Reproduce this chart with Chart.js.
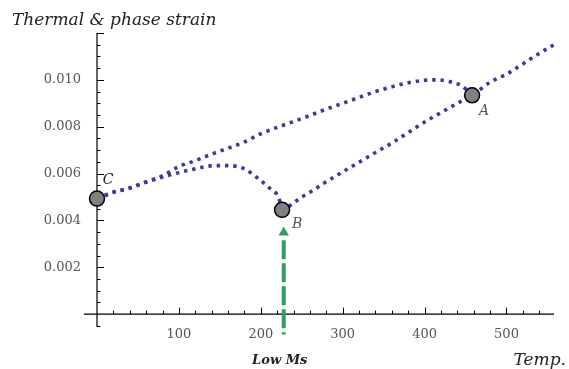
<!DOCTYPE html>
<html><head><meta charset="utf-8">
<script src="https://cdn.jsdelivr.net/npm/chart.js@4"></script>
<style>html,body{margin:0;padding:0;background:#fff}#wrap{width:569px;height:369px}</style>
</head><body><div id="wrap"><canvas id="c" width="569" height="369"></canvas></div>
<script>
// ---- data ----
const upperX = [0, 20, 40, 60, 80, 100, 120, 140, 160, 180, 200, 220, 240, 260, 280, 300, 320, 340, 360, 380, 400, 415, 430, 445, 458];
const upperY = [0.00493, 0.0052, 0.00538, 0.00565, 0.0059, 0.0063, 0.00655, 0.00683, 0.00708, 0.00735, 0.0077, 0.00797, 0.00822, 0.00848, 0.00875, 0.009, 0.00925, 0.0095, 0.0097, 0.00988, 0.00998, 0.0100, 0.00993, 0.00975, 0.00934];
const lowerX = [0, 20, 40, 60, 80, 100, 120, 140, 160, 180, 200, 210, 220, 228, 240, 250, 260, 280, 300, 320, 340, 360, 380, 400, 420, 440, 458, 480, 500, 520, 540, 558];
const lowerY = [0.00493, 0.0052, 0.00538, 0.00563, 0.00585, 0.00604, 0.0062, 0.00633, 0.00634, 0.0062, 0.0057, 0.0054, 0.0051, 0.0045, 0.00475, 0.005, 0.0052, 0.00565, 0.00607, 0.00648, 0.0069, 0.0073, 0.00775, 0.0082, 0.0086, 0.009, 0.00934, 0.0099, 0.01024, 0.01068, 0.01113, 0.0115];
const markerLabels = ['A', 'B', 'C'];
const markerX = [458, 226, 0];
const markerY = [0.00934, 0.00445, 0.00493];
const arrowX = [228, 228];
const arrowY = [0.00332, -0.00087];
const arrowHeadY = [0.00348];
const xMajorTicks = [100, 200, 300, 400, 500];
const yMajorTicks = [0.002, 0.004, 0.006, 0.008, 0.010];
const yAxisTitle = 'Thermal & phase strain';
const xAxisTitle = 'Temp.';
const arrowLabel = 'Low Ms';

const pts = (xs, ys) => xs.map((x, i) => ({x, y: ys[i]}));
const isMajor = (v, list) => list.some(m => Math.abs(v - m) < 1e-9);

const BLUE = '#3a3b9c';
const GREEN = '#2f9e64';
const SERIF = '"DejaVu Serif", "Liberation Serif", serif';
const X_AXIS_START = -16;

const decorations = {
  id: 'decorations',
  beforeDatasetsDraw(chart) {
    const ctx = chart.ctx, xs = chart.scales.x, ys = chart.scales.y, a = chart.chartArea;
    const x0 = xs.getPixelForValue(0), y0 = ys.getPixelForValue(0);
    ctx.save();
    ctx.strokeStyle = '#000';
    ctx.lineWidth = 1.2;
    ctx.beginPath();
    ctx.moveTo(xs.getPixelForValue(X_AXIS_START), y0); ctx.lineTo(a.right, y0);
    ctx.moveTo(x0, a.top); ctx.lineTo(x0, a.bottom);
    ctx.stroke();
    ctx.lineWidth = 1;
    ctx.beginPath();
    xs.ticks.forEach(t => {
      if (t.value <= 0) return;
      const p = Math.round(xs.getPixelForValue(t.value)) + 0.5;
      const len = isMajor(t.value, xMajorTicks) ? 6.5 : 3.5;
      ctx.moveTo(p, y0); ctx.lineTo(p, y0 - len);
    });
    ys.ticks.forEach(t => {
      if (Math.abs(t.value) < 1e-9) return;
      const p = Math.round(ys.getPixelForValue(t.value)) + 0.5;
      const len = (isMajor(t.value, yMajorTicks) || Math.abs(t.value - 0.012) < 1e-9) ? 7 : 3.5;
      ctx.moveTo(x0, p); ctx.lineTo(x0 + len, p);
    });
    ctx.stroke();
    ctx.restore();
  },
  afterDraw(chart) {
    const ctx = chart.ctx, xs = chart.scales.x, ys = chart.scales.y;
    ctx.save();
    ctx.fillStyle = '#222';
    ctx.textBaseline = 'alphabetic';
    ctx.font = 'italic 17px ' + SERIF;
    ctx.textAlign = 'left';
    ctx.fillText(yAxisTitle, 12, 25);
    ctx.textAlign = 'right';
    ctx.fillText(xAxisTitle, 566, 365);
    ctx.font = 'italic bold 13px ' + SERIF;
    ctx.textAlign = 'center';
    ctx.fillText(arrowLabel, xs.getPixelForValue(arrowX[0]) - 4, 364);
    const offs = [[12, 20], [15, 18], [11, -15]];
    ctx.font = 'italic 14px ' + SERIF;
    markerLabels.forEach((lab, i) => {
      ctx.fillStyle = i === 2 ? '#222' : '#555';
      ctx.fillText(lab, xs.getPixelForValue(markerX[i]) + offs[i][0], ys.getPixelForValue(markerY[i]) + offs[i][1]);
    });
    ctx.restore();
  }
};

const dotted = {
  showLine: true, pointRadius: 0, borderColor: BLUE, borderWidth: 3.6,
  borderDash: [3.4, 4.9], borderCapStyle: 'butt', fill: false,
  cubicInterpolationMode: 'monotone'
};

new Chart(document.getElementById('c'), {
  type: 'scatter',
  data: {
    datasets: [
      {label: 'points', data: pts(markerX, markerY), pointRadius: 7.5, pointHoverRadius: 7.5,
       backgroundColor: '#808080', borderColor: '#000', borderWidth: 1.5, order: 0, clip: false},
      {label: 'arrow head', data: pts(arrowX.slice(0, 1), arrowHeadY), pointStyle: 'triangle',
       pointRadius: 6, backgroundColor: GREEN, borderColor: GREEN, borderWidth: 0, order: 1, clip: false},
      {label: 'arrow', data: pts(arrowX, arrowY), showLine: true, pointRadius: 0, borderColor: GREEN,
       borderWidth: 4, borderDash: [19, 4], borderDashOffset: 19, borderCapStyle: 'butt', order: 2, clip: false},
      Object.assign({label: 'upper', data: pts(upperX, upperY), order: 3, clip: false}, dotted),
      Object.assign({label: 'lower', data: pts(lowerX, lowerY), order: 4, clip: false}, dotted)
    ]
  },
  options: {
    responsive: false, animation: false, devicePixelRatio: 1,
    layout: {padding: {left: 0, right: 15, top: 33, bottom: 42}},
    plugins: {legend: {display: false}, tooltip: {enabled: false}},
    scales: {
      x: {
        type: 'linear', position: {y: 0}, min: 0, max: 558,
        grid: {display: false}, border: {display: false},
        ticks: {stepSize: 20, includeBounds: false, autoSkip: false, maxRotation: 0,
          padding: 5, color: '#555', font: {family: SERIF, size: 13},
          callback: v => isMajor(v, xMajorTicks) ? String(v) : ''}
      },
      y: {
        type: 'linear', position: 'left', min: -0.00055, max: 0.012,
        afterFit: s => { s.width = 97; },
        grid: {display: false}, border: {display: false},
        ticks: {stepSize: 0.0005, includeBounds: false, autoSkip: false,
          padding: 8, color: '#555', font: {family: SERIF, size: 13},
          callback: v => isMajor(v, yMajorTicks) ? v.toFixed(3) : ''}
      }
    }
  },
  plugins: [decorations]
});
</script>
</body></html>
